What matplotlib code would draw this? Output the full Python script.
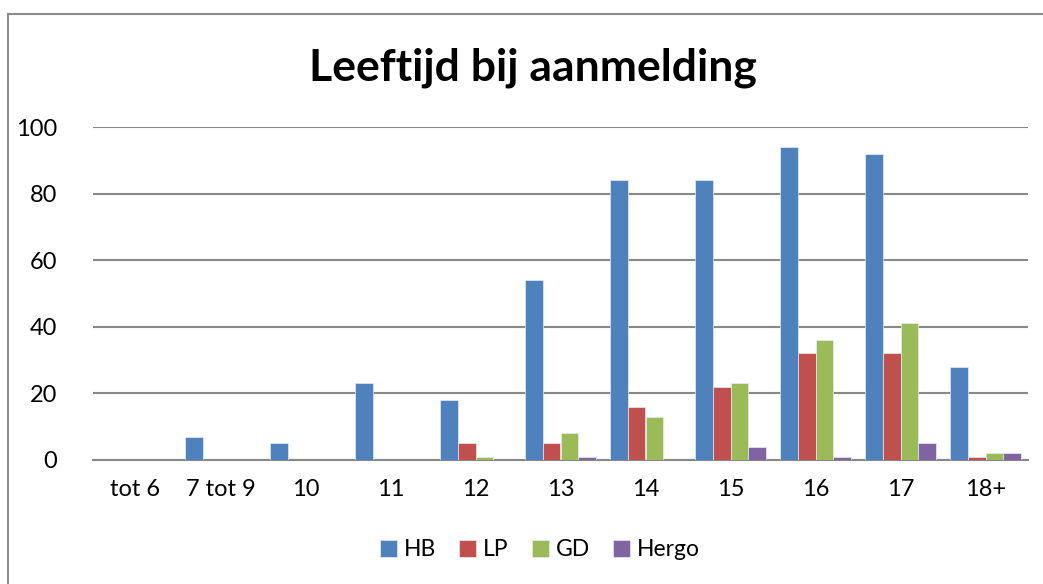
import numpy as np
import matplotlib.pyplot as plt
from matplotlib.patches import Rectangle

# data
categories = ['tot 6', '7 tot 9', '10', '11', '12', '13', '14', '15', '16', '17', '18+']
hb = [0, 7, 5, 23, 18, 54, 84, 84, 94, 92, 28]
lp = [0, 0, 0, 0, 5, 5, 16, 22, 32, 32, 1]
gd = [0, 0, 0, 0, 1, 8, 13, 23, 36, 41, 2]
hergo = [0, 0, 0, 0, 0, 1, 0, 4, 1, 5, 2]

series = [('HB', hb, '#4F81BD'), ('LP', lp, '#C0504D'),
          ('GD', gd, '#9BBB59'), ('Hergo', hergo, '#8064A2')]

plt.rcParams['font.family'] = ['Lato', 'DejaVu Sans']

fig = plt.figure(figsize=(10.43, 5.84), dpi=100)
ax = fig.add_axes([93 / 1043, 1 - 460 / 584, (1028 - 93) / 1043, (460 - 127) / 584])

x = np.arange(len(categories))
w = 0.21
for i, (name, vals, col) in enumerate(series):
    ax.bar(x + (i - 1.5) * w, vals, w, color=col, label=name,
           edgecolor='#e6ecf5', linewidth=0.5, zorder=3)

ax.set_xlim(-0.5, len(categories) - 0.5)
ax.set_ylim(0, 100)
ax.set_yticks(range(0, 101, 20))
ax.set_xticks(x)
ax.set_xticklabels(categories)
ax.tick_params(axis='both', length=0, labelsize=17, colors='black')
ax.tick_params(axis='x', pad=14)
ax.tick_params(axis='y', pad=26)
ax.grid(axis='y', color='#888888', linewidth=1.5, zorder=0)
for s in ['top', 'right', 'left']:
    ax.spines[s].set_visible(False)
ax.spines['bottom'].set_color('#888888')
ax.spines['bottom'].set_linewidth(1.5)

fig.text(533 / 1043, 1 - 68 / 584, 'Leeftijd bij aanmelding', ha='center', va='center',
         fontsize=32, fontweight='bold')

fig.legend(loc='center', bbox_to_anchor=(540 / 1043, 1 - 550 / 584), ncol=4,
           frameon=False, fontsize=16.5, handlelength=0.75, handleheight=0.75,
           handletextpad=0.3, columnspacing=1.0)

# chart border
fig.patches.append(Rectangle((8 / 1043, -0.1), 1.2, 1 - 14 / 584 + 0.1,
                             transform=fig.transFigure, fill=False,
                             edgecolor='#8c8c8c', linewidth=1.5))

fig.savefig('out.png', dpi=100)
